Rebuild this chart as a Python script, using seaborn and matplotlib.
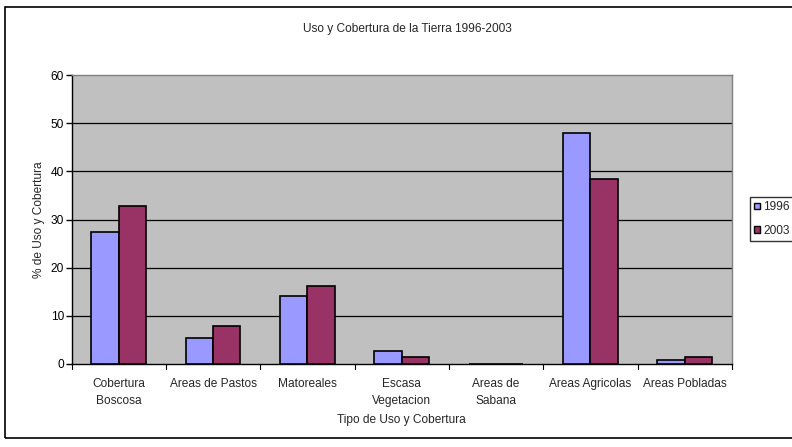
import matplotlib
matplotlib.use("Agg")
import matplotlib.pyplot as plt
from matplotlib.patches import Rectangle
import seaborn as sns
import pandas as pd

categorias = ["Cobertura\nBoscosa", "Areas de Pastos", "Matoreales", "Escasa\nVegetacion",
              "Areas de\nSabana", "Areas Agricolas", "Areas Pobladas"]
valores_1996 = [27.4, 5.5, 14.1, 2.7, 0.1, 47.9, 0.8]
valores_2003 = [32.8, 7.9, 16.2, 1.4, 0.1, 38.4, 1.5]
series = ["1996", "2003"]
colores = ["#9999FF", "#993366"]

df = pd.DataFrame({
    "cat": categorias * 2,
    "val": valores_1996 + valores_2003,
    "serie": [series[0]] * len(categorias) + [series[1]] * len(categorias),
})

sns.set_style("white")
plt.rcParams["font.family"] = ["Liberation Sans", "DejaVu Sans"]
FS = 8.6

fig = plt.figure(figsize=(7.92, 4.47), dpi=100)
W, H = 792, 447
ax = fig.add_axes([71.5 / W, 1 - 364 / H, (732 - 71.5) / W, (364 - 75) / H])
ax.set_facecolor("#C0C0C0")

sns.barplot(data=df, x="cat", y="val", hue="serie", palette=colores,
            saturation=1, width=0.58, edgecolor="black", linewidth=1.2, gap=0,
            ax=ax, legend=False, zorder=3)

ax.set_ylim(0, 60)
ax.set_xlim(-0.5, len(categorias) - 0.5)
ax.set_yticks(range(0, 61, 10))
for y in range(10, 60, 10):
    ax.axhline(y, color="black", linewidth=0.9, zorder=1)
for s in ax.spines.values():
    s.set_color("#808080")
    s.set_linewidth(1.0)
ax.spines["bottom"].set_color("black")
ax.spines["left"].set_color("black")

ax.set_xticks([i for i in range(len(categorias))])
ax.set_xticklabels(categorias, fontsize=FS, linespacing=1.55)
ax.tick_params(axis="x", length=0, pad=10)
ax.tick_params(axis="y", labelsize=FS, length=4, width=1, pad=1.5,
               direction="out", left=True, colors="black")
# category separators below the axis
for i in range(len(categorias) + 1):
    ax.plot([i - 0.5, i - 0.5], [0, -1.1], color="black", linewidth=0.8,
            clip_on=False, zorder=4)

ax.set_xlabel("Tipo de Uso y Cobertura", fontsize=FS, labelpad=5)
ax.set_ylabel("% de Uso y Cobertura", fontsize=FS, labelpad=4)

fig.text(407 / W, 1 - 29 / H, "Uso y Cobertura de la Tierra 1996-2003",
         ha="center", va="center", fontsize=FS)

# outer chart frame
fig.patches.append(Rectangle((5 / W, 1 - 438 / H), 1.0, (438 - 7) / H,
                             transform=fig.transFigure, fill=False,
                             edgecolor="black", linewidth=1.2))

handles = [Rectangle((0, 0), 1, 1, facecolor=c, edgecolor="black", linewidth=1)
           for c in colores]
fig.legend(handles, series, loc="upper left",
           bbox_to_anchor=(750 / W, 1 - 197 / H), fontsize=FS,
           frameon=True, fancybox=False, edgecolor="black",
           handlelength=0.5, handleheight=0.5, handletextpad=0.25,
           labelspacing=0.95, borderpad=0.35, borderaxespad=0)

fig.savefig("out.png", dpi=100)
